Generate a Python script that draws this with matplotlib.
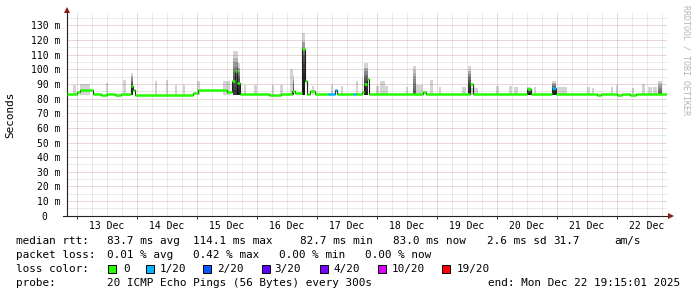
import matplotlib
matplotlib.use('Agg')
import matplotlib.pyplot as plt
from matplotlib.patches import Rectangle
from matplotlib.ticker import MultipleLocator, FuncFormatter
import matplotlib.transforms as mtrans

# x = days since 13 Dec 00:00
x_start = -0.167
x_end = 9.833
day_labels = ['13 Dec', '14 Dec', '15 Dec', '16 Dec', '17 Dec',
              '18 Dec', '19 Dec', '20 Dec', '21 Dec', '22 Dec']

# median rtt as steps (start day, ms, loss index)
seg_start = [-0.167, 0.0, 0.05, 0.267, 0.40, 0.50, 0.63, 0.73, 0.90, 0.933,
             0.967, 1.933, 2.017, 2.50, 2.583, 2.633, 2.667, 2.717, 3.20, 3.40,
             3.583, 3.633, 3.75, 3.80, 3.833, 3.883, 3.967, 4.183, 4.30, 4.333,
             4.60, 4.65, 4.75, 4.783, 4.833, 4.867, 5.767, 5.817, 6.55, 6.60,
             7.50, 7.567, 7.917, 7.983, 8.67, 8.73, 9.00, 9.08, 9.22, 9.32]
seg_ms = [83.0, 84.3, 85.7, 83.0, 82.4, 83.0, 82.4, 83.0, 88.7, 86.0,
          82.7, 84.0, 86.0, 84.5, 92.0, 99.0, 91.0, 83.0, 82.5, 83.0,
          85.5, 84.0, 114.0, 91.7, 83.0, 85.5, 83.0, 83.2, 86.0, 83.0,
          83.0, 83.0, 84.8, 90.2, 93.5, 83.0, 84.8, 83.0, 90.0, 83.0,
          86.6, 83.0, 87.5, 83.0, 82.4, 83.0, 82.4, 83.0, 82.4, 83.0]
seg_loss = [0, 0, 0, 0, 0, 0, 0, 0, 0, 0,
            0, 0, 0, 0, 0, 0, 0, 0, 0, 0,
            0, 0, 0, 0, 0, 0, 0, 1, 1, 0,
            1, 0, 0, 0, 0, 0, 0, 0, 0, 0,
            0, 0, 1, 0, 0, 0, 0, 0, 0, 0]

# smoke (ping spread) bars
smoke_day = [-0.042, 0.133, 0.5, 0.79, 0.917, 1.317, 1.5, 1.65, 1.783, 2.025,
             2.492, 2.642, 2.692, 2.8, 2.967, 3.267, 3.408, 3.567, 3.608, 3.775,
             3.933, 4.25, 4.417, 4.667, 4.758, 4.808, 5.008, 5.092, 5.158, 5.5,
             5.625, 5.708, 5.908, 6.05, 6.45, 6.542, 6.625, 7.008, 7.225, 7.317,
             7.533, 7.633, 7.95, 8.092, 8.525, 8.6, 8.917, 9.0, 9.267, 9.442,
             9.55, 9.633, 9.717]
smoke_hours = [1.2, 4.0, 0.6, 1.2, 0.8, 0.6, 0.6, 0.6, 0.8, 1.2,
               2.8, 2.0, 1.2, 0.6, 1.2, 0.6, 1.2, 1.2, 0.6, 1.2,
               0.6, 0.6, 0.6, 0.8, 0.6, 1.6, 1.2, 2.0, 1.2, 0.6,
               1.2, 2.8, 1.2, 0.6, 1.6, 1.2, 2.8, 1.2, 1.2, 1.6,
               1.6, 0.6, 1.6, 3.6, 1.2, 0.6, 0.6, 0.6, 0.6, 1.2,
               1.6, 1.6, 1.6]
smoke_top = [89.6, 90.0, 90.5, 92.8, 97.8, 91.7, 93.0, 89.6, 89.6, 92.0,
             92.0, 112.5, 104.0, 89.6, 89.0, 89.0, 89.6, 100.0, 96.0, 125.0,
             88.5, 89.6, 88.5, 91.7, 94.0, 104.3, 88.5, 92.0, 88.5, 88.0,
             102.4, 89.4, 92.8, 88.0, 87.8, 102.0, 87.0, 88.7, 88.7, 87.8,
             87.8, 88.0, 92.0, 87.8, 87.8, 87.0, 88.0, 89.4, 87.5, 90.0,
             87.8, 87.8, 92.0]
smoke_dark = [0, 0, 0, 0, 0.2, 0, 0, 0, 0, 0,
              0, 0.15, 0.2, 0, 0, 0, 0, 0, 0.15, 0.25,
              0, 0, 0, 0, 0, 0.2, 0, 0, 0, 0,
              0.1, 0, 0, 0, 0, 0.2, 0, 0, 0, 0,
              0.2, 0, 0.22, 0, 0, 0, 0, 0, 0, 0,
              0, 0, 0.1]
smoke_low = 82.5

loss_colors = ['#26ff00', '#00b8ff', '#0059ff', '#5e00ff', '#7e00ff', '#dd00ff', '#ff0000']
loss_labels = ['0', '1/20', '2/20', '3/20', '4/20', '10/20', '19/20']

rtt_items = ['median rtt:', '83.7 ms avg', '114.1 ms max', '82.7 ms min',
             '83.0 ms now', '2.6 ms sd', '31.7', 'am/s']
loss_items = ['packet loss:', '0.01 % avg', '0.42 % max', '0.00 % min', '0.00 % now']

plt.rcParams['font.family'] = 'DejaVu Sans Mono'
W, H = 697, 297
fig = plt.figure(figsize=(W/100, H/100), dpi=100)
ax = fig.add_axes([67/W, 1-215.7/H, 600/W, (215.7-13)/H])
ax.set_xlim(x_start, x_end)
ax.set_ylim(0, 138.5)

# grid
ax.yaxis.set_major_locator(MultipleLocator(10))
ax.yaxis.set_minor_locator(MultipleLocator(5))
ax.xaxis.set_major_locator(MultipleLocator(1))
ax.xaxis.set_minor_locator(MultipleLocator(0.25))
ax.grid(which='major', color='#821e1e', alpha=0.35, linestyle=(0, (1, 1)), linewidth=0.72)
ax.grid(which='minor', color='#8c8c8c', alpha=0.35, linestyle=(0, (1, 1)), linewidth=0.72)
ax.set_axisbelow(True)

ax.yaxis.set_major_formatter(FuncFormatter(lambda v, p: '0' if v == 0 else '%d m' % v))
ax.xaxis.set_major_formatter(FuncFormatter(lambda v, p: ''))
def day_fmt(v, p):
    d = int(round(v - 0.5))
    if abs(v - d - 0.5) < 1e-6 and 0 <= d < len(day_labels):
        return day_labels[d]
    return ''
ax.xaxis.set_minor_formatter(FuncFormatter(day_fmt))
ax.tick_params(axis='y', which='both', length=0, pad=5, labelsize=7)
ax.tick_params(axis='x', which='major', length=2.5, color='#333333', width=0.72)
ax.tick_params(axis='x', which='minor', length=0, pad=3.5, labelsize=7)
for lab in ax.get_yticklabels():
    if lab.get_text() == '0':
        lab.set_transform(lab.get_transform() + mtrans.ScaledTranslation(-0.13, 0, fig.dpi_scale_trans))

for s in ['top', 'right']:
    ax.spines[s].set_visible(False)
for s in ['left', 'bottom']:
    ax.spines[s].set_color('#222222')
    ax.spines[s].set_linewidth(0.8)
ax.plot([-4/600, 0], [0, 0], transform=ax.transAxes, clip_on=False, color='#222222', lw=0.8)
ax.plot([0], [1.013], transform=ax.transAxes, marker='^', ms=4, color='#8b1a1a', clip_on=False, mew=0)
ax.plot([1.007], [0], transform=ax.transAxes, marker='>', ms=4, color='#8b1a1a', clip_on=False, mew=0)

# smoke
for d, hrs, top, dk in zip(smoke_day, smoke_hours, smoke_top, smoke_dark):
    w = hrs / 24.0
    ax.bar(d, top - smoke_low, w, bottom=smoke_low, color='black', alpha=0.17, linewidth=0, zorder=2)
    if dk > 0:
        n = 8
        for k in range(n):
            h = (top - smoke_low) * (k + 1) / n * 0.85
            ax.bar(d, h, w, bottom=smoke_low, color='black', alpha=dk, linewidth=0, zorder=2)

# median line
xs = seg_start + [x_end]
ys = seg_ms + [seg_ms[-1]]
ax.step(xs, ys, where='post', color='#202020', lw=0.8, zorder=3)
ax.hlines(seg_ms, seg_start, seg_start[1:] + [x_end],
          colors=[loss_colors[i] for i in seg_loss], lw=1.8, zorder=4, capstyle='butt')

# side texts
fig.text(10/W, 1-115/H, 'Seconds', rotation=90, ha='center', va='center', fontsize=7.9)
fig.text(686/W, 1-60/H, 'RRDTOOL / TOBI OETIKER', rotation=-90, ha='center', va='center',
         fontsize=6, color='#b4b4b4')

# legend lines
fs = 7.9
for x, t in zip([16, 107, 193, 300, 393, 487, 553, 614], rtt_items):
    fig.text(x/W, 1-241/H, t, ha='left', va='center', fontsize=fs)
for x, t in zip([16, 107, 193, 279, 365], loss_items):
    fig.text(x/W, 1-255/H, t, ha='left', va='center', fontsize=fs)
fig.text(16/W, 1-269/H, 'loss color:', ha='left', va='center', fontsize=fs)
for bx, lx, c, t in zip([108, 146, 203, 262, 320, 378, 442],
                        [123, 160, 217, 274, 333, 392, 457], loss_colors, loss_labels):
    fig.add_artist(Rectangle((bx/W, 1-272.5/H), 8/W, 8/H, transform=fig.transFigure,
                             facecolor=c, edgecolor='black', linewidth=0.7))
    fig.text(lx/W, 1-269/H, t, ha='left', va='center', fontsize=fs)
fig.text(16/W, 1-283/H, 'probe:', ha='left', va='center', fontsize=fs)
fig.text(107/W, 1-283/H, '20 ICMP Echo Pings (56 Bytes) every 300s', ha='left', va='center', fontsize=fs)
fig.text(680/W, 1-283/H, 'end: Mon Dec 22 19:15:01 2025', ha='right', va='center', fontsize=fs)

fig.savefig('out.png', dpi=100)
